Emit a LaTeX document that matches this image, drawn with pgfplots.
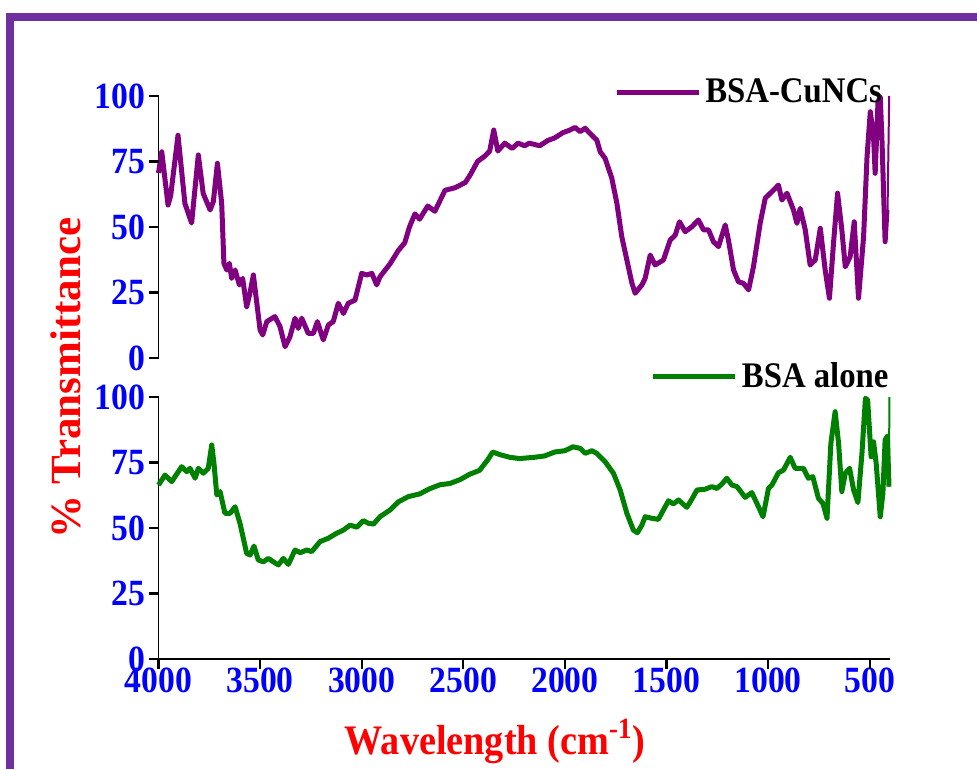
\documentclass[border=0pt]{standalone}
\usepackage{pgfplots}
\pgfplotsset{compat=1.18}
\usetikzlibrary{calc}
\usepackage{fontspec}
\setmainfont{Liberation Serif}[FakeStretch=0.91]
\newfontfamily\ylabfont{Liberation Serif}
\definecolor{framec}{HTML}{7030A0}
\definecolor{cupurple}{HTML}{800080}
\definecolor{bsagreen}{HTML}{008000}
\pgfplotsset{
  ftir/.style={
    scale only axis, width=365.75pt, height=131pt,
    x dir=reverse, xmin=400, xmax=4000, ymin=0, ymax=100,
    ytick={0,25,50,75,100},
    xtick={500,1000,1500,2000,2500,3000,3500,4000},
    /pgf/number format/assume math mode=true,
    /pgf/number format/1000 sep={},
    tick label style={font=\fontsize{18.5}{20}\selectfont\bfseries, text=blue},
    yticklabel style={xshift=-3pt},
    xticklabel style={yshift=-1pt},
    clip=false,
    legend style={draw=none, fill=none, font=\fontsize{18}{20}\selectfont\bfseries, inner sep=0pt},
    legend image code/.code={\draw[#1] (0pt,0pt) -- (41pt,0pt);},
  },
  ftirlines/.style={
    axis line style={black, line width=0.9pt, -},
    every outer x axis line/.append style={-},
    every outer y axis line/.append style={-},
    major tick length=0pt,
    xtick pos=bottom, ytick pos=left,
  }
}
\begin{document}
\begin{tikzpicture}
\useasboundingbox (0,0) rectangle (488.5pt,-384.5pt);
\fill[framec] (3pt,-6.5pt) rectangle (488.5pt,-10.5pt);
\fill[framec] (3pt,-6.5pt) rectangle (7pt,-384.5pt);

\begin{axis}[ftir, at={(79.25pt,-179pt)}, anchor=south west, name=top,
  axis x line=none, axis y line=left, ftirlines,
  legend style={at={(rel axis cs:0.995,1.015)}, anchor=east}]
\addplot[cupurple, line width=2.5pt, line join=round] coordinates {
(4000,70.6)(3984,78.7)(3953,58.4)(3940,62)(3904,85)(3870,59)(3837,51.5)(3804,77.5)(3780,62.8)(3746,56.5)(3730,59.7)(3710,74.3)(3689,59)(3678,36.1)(3664,33.6)(3651,36.1)(3640,30.4)(3623,33.6)(3602,27.9)(3586,30.4)(3566,19.6)(3550,24.7)(3533,31.7)(3520,23.4)(3500,10.7)(3487,8.8)(3467,13.9)(3427,15.8)(3402,12)(3377,4.3)(3353,8.1)(3328,15.2)(3312,11.3)(3295,15.2)(3263,9.4)(3238,9.4)(3218,13.9)(3189,6.9)(3164,12.6)(3140,13.9)(3115,20.9)(3090,17)(3066,20.9)(3033,22.1)(3000,32.3)(2975,31.7)(2950,32.3)(2926,27.9)(2910,31)(2860,36)(2820,41)(2788,44)(2765,50)(2738,55)(2715,53)(2675,58)(2640,56)(2615,60)(2590,64)(2540,65)(2490,67)(2465,70)(2430,75)(2395,77)(2370,79)(2350,87)(2330,79)(2296,82)(2260,80)(2230,82)(2198,81)(2175,82)(2124,81)(2085,83)(2050,84)(2010,86)(1975,87)(1950,88)(1925,86.4)(1900,87.7)(1885,86.4)(1861,84.5)(1843,83.2)(1826,78.7)(1802,76.2)(1769,68.6)(1744,59)(1720,46.3)(1695,37.4)(1670,28.5)(1654,24.7)(1621,27.9)(1605,30.4)(1580,39.3)(1556,35.5)(1515,37.4)(1482,45)(1457,46.9)(1436,52)(1408,48.2)(1375,50.1)(1343,52.7)(1318,48.9)(1293,48.9)(1269,44.4)(1244,42.5)(1211,50.8)(1195,45)(1170,33.6)(1146,29.1)(1121,28.5)(1096,26)(1072,34.8)(1039,51.4)(1014,61)(981,63.5)(949,66)(932,60.3)(907,62.9)(875,56.5)(858,51.4)(842,57.1)(817,48.9)(793,35.5)(768,37.4)(743,49.5)(719,33.6)(698,22.8)(678,43.8)(658,62.9)(637,48.9)(620,34.8)(596,38.7)(576,52)(555,22.8)(530,46.3)(513,76.8)(497,94)(481,84.5)(473,70.5)(459,97.8)(448,99.7)(440,84.5)(424,44.4)(415,56.5)
};
\addlegendentry{BSA-CuNCs}
\addplot[cupurple, line width=1pt, forget plot] coordinates {(412,56.5)(404,100)};
\end{axis}

\begin{axis}[ftir, at={(79.25pt,-329.5pt)}, anchor=south west, name=bot,
  axis x line=bottom, axis y line=left, ftirlines,
  legend style={at={(rel axis cs:1.004,1.08)}, anchor=east}]
\addplot[bsagreen, line width=2.5pt, line join=round] coordinates {
(4000,66.4)(3968,70.2)(3935,67.7)(3886,73.4)(3861,71.5)(3845,72.8)(3820,69)(3804,72.8)(3779,70.9)(3755,72.8)(3738,81.7)(3727,74.7)(3713,62.6)(3697,63.9)(3673,55.6)(3648,55.6)(3623,58.1)(3599,51.8)(3566,40.3)(3549,39.7)(3530,43.1)(3509,37.8)(3484,37.1)(3459,38.4)(3435,37.1)(3410,35.9)(3386,38.4)(3361,36.1)(3328,41.6)(3303,40.6)(3270,41.6)(3246,41)(3205,44.8)(3164,46.1)(3123,48)(3090,49.2)(3057,51.1)(3024,50.3)(2992,52.8)(2967,51.8)(2942,51.5)(2910,54.3)(2860,56.9)(2819,60)(2770,62)(2715,63)(2665,65)(2615,66.5)(2565,67)(2515,68.5)(2469,70.5)(2420,72)(2380,76)(2355,79)(2320,78)(2272,77)(2223,76.5)(2149,77)(2100,77.5)(2050,79)(2000,79.5)(1960,81)(1925,80.4)(1900,78.5)(1867,79.5)(1843,78.5)(1802,75.3)(1761,70.9)(1728,64.5)(1695,55.6)(1663,49.2)(1643,48.2)(1621,51.1)(1605,54.3)(1572,53.7)(1540,53.3)(1515,56.9)(1490,60.4)(1466,59.2)(1441,60.7)(1400,57.9)(1375,61)(1350,64.5)(1310,64.8)(1277,65.8)(1252,65.1)(1227,66.8)(1203,69)(1178,66.4)(1153,65.8)(1113,61.7)(1080,63.5)(1055,59.4)(1025,54.3)(998,65.1)(981,66.4)(949,71.1)(924,72.1)(891,77)(867,72.8)(826,72.8)(802,69)(780,69.6)(752,61.3)(730,59.4)(710,53.7)(691,82.3)(670,94.4)(653,82.3)(637,63.9)(620,70.9)(599,72.8)(579,64.5)(558,59.7)(538,78.5)(521,99.5)(510,98.9)(493,77.2)(481,82.9)(468,74.7)(448,54.3)(435,63.2)(424,83.6)(413,85.1)(405,65.8)
};
\addlegendentry{BSA alone}
\addplot[bsagreen, line width=1pt, forget plot] coordinates {(405,65.8)(403,100)};
\end{axis}

% tick marks, placed along the axes' own frames
\foreach \f in {0,0.25,0.5,0.75,1}{
  \draw[black, line width=1.1pt] ($(top.south west)!\f!(top.north west)$) -- ++(-5pt,0pt);
  \draw[black, line width=1.1pt] ($(bot.south west)!\f!(bot.north west)$) -- ++(-5pt,0pt);
}
\foreach \v in {500,1000,1500,2000,2500,3000,3500,4000}{
  \pgfmathsetmacro\f{(4000-\v)/3600}
  \draw[black, line width=1.1pt] ($(bot.south west)!\f!(bot.south east)$) -- ++(0pt,-5pt);
}

\node[rotate=90, text=red, font=\ylabfont\fontsize{21.5}{24}\selectfont\bfseries] at (33pt,-189pt) {\% Transmittance};
\node[anchor=base, text=red, font=\fontsize{21}{24}\selectfont\bfseries] at (247.5pt,-377pt) {Wavelength (cm\textsuperscript{-1})};
\end{tikzpicture}
\end{document}
